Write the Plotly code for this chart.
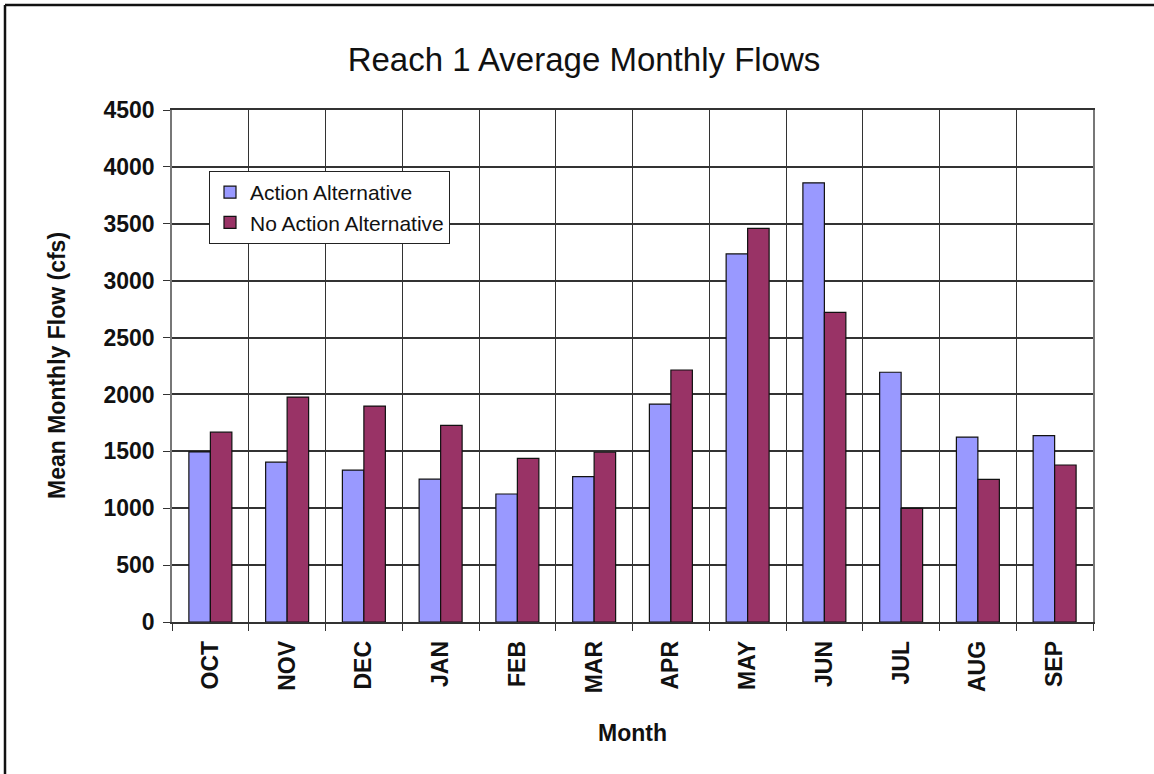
import plotly.graph_objects as go

months = ["OCT", "NOV", "DEC", "JAN", "FEB", "MAR", "APR", "MAY", "JUN", "JUL", "AUG", "SEP"]
action = [1495, 1405, 1335, 1255, 1125, 1278, 1915, 3235, 3860, 2195, 1625, 1638]
no_action = [1668, 1977, 1898, 1728, 1438, 1492, 2215, 3460, 2722, 998, 1254, 1380]
y_ticks = [0, 500, 1000, 1500, 2000, 2500, 3000, 3500, 4000, 4500]

FONT = "Arial, Liberation Sans, sans-serif"
W, H = 1154, 774
# plot area in page pixels
X0, X1, Y0, Y1 = 172, 1093, 110, 622
pw, ph = X1 - X0, Y1 - Y0


def px(x):
    return (x - X0) / pw


def py(y):
    return (Y1 - y) / ph


fig = go.Figure()
fig.add_trace(go.Bar(x=months, y=action, name="Action Alternative",
                     marker=dict(color="#9999FF", line=dict(color="#111", width=1.2))))
fig.add_trace(go.Bar(x=months, y=no_action, name="No Action Alternative",
                     marker=dict(color="#993366", line=dict(color="#111", width=1.2))))

fig.update_layout(
    width=W, height=H,
    margin=dict(l=X0, r=W - X1, t=Y0, b=H - Y1, autoexpand=False),
    paper_bgcolor="white", plot_bgcolor="white",
    barmode="group", bargap=0.44, bargroupgap=0,
    title=dict(text="Reach 1 Average Monthly Flows", x=584 / W, xref="container",
               y=1 - 59 / H, yref="container", xanchor="center", yanchor="middle",
               font=dict(family=FONT, size=33, color="#111")),
    font=dict(family=FONT, color="#111"),
    legend=dict(x=px(209), y=py(171), xanchor="left", yanchor="top", bgcolor="white",
                bordercolor="#222", borderwidth=1,
                font=dict(family=FONT, size=21, color="#111"),
                itemwidth=30, tracegroupgap=0),
    showlegend=True,
)

fig.update_xaxes(
    type="category", tickson="boundaries", ticks="outside", ticklen=7,
    tickcolor="#333", tickangle=-90, showgrid=True, gridcolor="#333", gridwidth=1.3,
    showline=True, linecolor="#333", linewidth=1.5, mirror=True, ticklabelstandoff=8,
    tickfont=dict(family=FONT, size=23, color="#111", weight="bold"),
)
fig.update_yaxes(
    range=[0, 4500], tickvals=y_ticks, ticks="outside", ticklen=7, tickcolor="#333",
    showgrid=True, gridcolor="#333", gridwidth=1.5, zeroline=False,
    showline=True, linecolor="#777", linewidth=1.5, mirror=True, ticklabelstandoff=4,
    tickfont=dict(family=FONT, size=23, color="#111", weight="bold"),
)

fig.add_annotation(text="<b>Mean Monthly Flow (cfs)</b>", textangle=-90,
                   x=px(57), y=py(366), xref="paper", yref="paper",
                   xanchor="center", yanchor="middle",
                   showarrow=False, font=dict(family=FONT, size=23, color="#111"))
fig.add_annotation(text="<b>Month</b>", x=px(632), y=py(733),
                   xref="paper", yref="paper", xanchor="center", yanchor="middle",
                   showarrow=False, font=dict(family=FONT, size=23, color="#111"))

# outer frame (only left and top edges show in the original)
fig.add_shape(type="line", xref="paper", yref="paper",
              x0=px(5), x1=px(W + 20), y0=py(5), y1=py(5),
              line=dict(color="#111", width=2.5))
fig.add_shape(type="line", xref="paper", yref="paper",
              x0=px(5), x1=px(5), y0=py(5), y1=py(H + 20),
              line=dict(color="#111", width=2.5))

fig.write_html("out.html", config={"displayModeBar": False},
               post_script="document.body.style.margin='0px';")
